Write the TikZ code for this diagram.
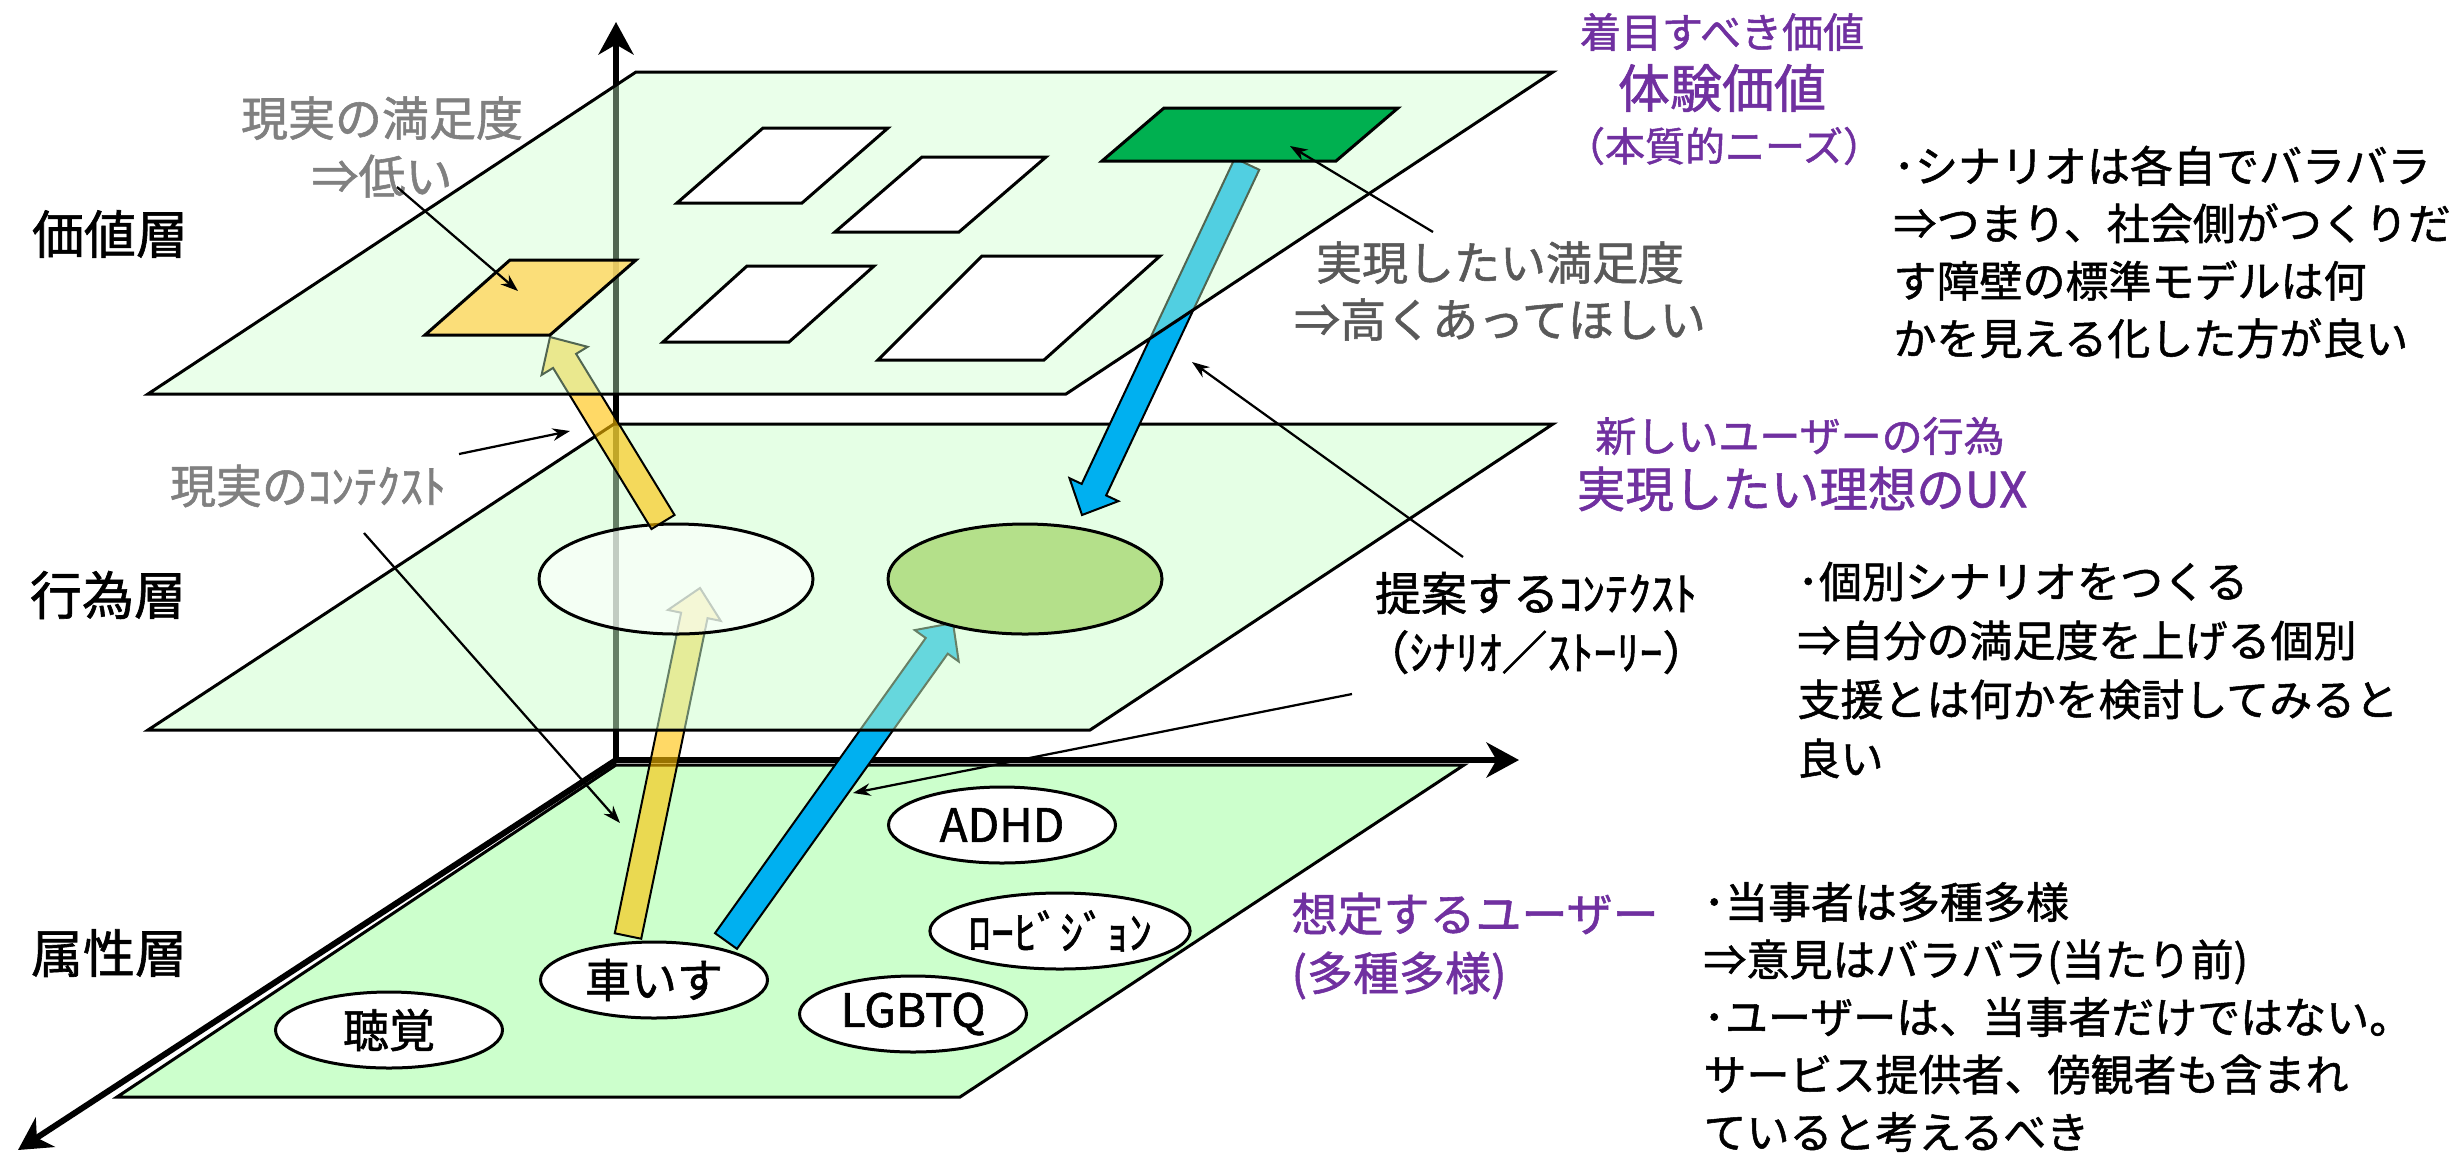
\documentclass[tikz,border=0pt]{standalone}
\usepackage{fontspec}
\setmainfont{Noto Sans CJK JP}[FakeBold=1.2]
\usetikzlibrary{calc,arrows.meta,shapes.geometric}
\definecolor{planeG}{HTML}{CCFFCC}
\definecolor{purp}{HTML}{7030A0}
\definecolor{grayA}{HTML}{808080}
\definecolor{grayB}{HTML}{595959}
\definecolor{yel}{HTML}{FFC000}
\definecolor{yelP}{HTML}{FFD966}
\definecolor{blu}{HTML}{00B0F0}
\definecolor{grnP}{HTML}{00B050}
\definecolor{grnE}{HTML}{B4E08A}
\newcommand\fsz[2]{\fontsize{#1}{#2}\selectfont}
% block arrow: #1 style, #2 tail, #3 tip
\newcommand\blockarrow[3]{%
  \coordinate (ba-h) at ($(#3)!11.2pt!(#2)$);
  \draw[#1] ($(#2)!5.4pt!90:(#3)$) -- ($(ba-h)!5.4pt!90:(#3)$) -- ($(ba-h)!10.8pt!90:(#3)$) -- (#3)
    -- ($(ba-h)!10.8pt!-90:(#3)$) -- ($(ba-h)!5.4pt!-90:(#3)$) -- ($(#2)!5.4pt!-90:(#3)$) -- cycle;
}
\begin{document}
\begin{tikzpicture}[x=0.4pt,y=-0.4pt,
  plane/.style={draw=black, line width=1.2pt, fill=planeG},
  axisline/.style={line width=2.4pt, -{Stealth[length=13pt,width=14pt,inset=4pt]}},
  callout/.style={line width=0.9pt, -{Stealth[length=7pt,width=5pt]}},
  attrell/.style={ellipse, draw=black, line width=1.2pt, fill=white, minimum width=90.8pt, minimum height=30.4pt, inner sep=0pt, font=\fsz{18.4pt}{20pt}},
  actell/.style={ellipse, draw=black, line width=1.2pt, minimum width=109.6pt, minimum height=44pt, inner sep=0pt},
  card/.style={draw=black, line width=1.2pt, fill=white},
  layerlbl/.style={font=\fsz{20.8pt}{24pt}, inner sep=0pt},
  note/.style={font=\fsz{17.2pt}{23pt}, align=left, inner sep=0pt, anchor=west},
  yarrow/.style={fill=yel, fill opacity=0.6, draw=black, line width=0.8pt},
  barrow/.style={fill=blu, draw=black, line width=0.8pt}]

\fill[white] (0,0) rectangle (2450,1154);
\useasboundingbox (0,0) rectangle (2450,1154);

% ---------- attribute layer ----------
\coordinate (b1) at (616,765); \coordinate (b2) at (1464,765);
\coordinate (b3) at (960,1097); \coordinate (b4) at (117,1097);
\draw[plane] (b1) -- (b2) -- (b3) -- (b4) -- cycle;

% axes
\coordinate (O) at (616,760);
\coordinate (Zt) at (616,22);
\coordinate (Xt) at (1519,760);
\coordinate (Yt) at (18,1150);
\draw[axisline] (O) -- (Zt);
\draw[axisline] (O) -- (Xt);
\draw[axisline] (O) -- (Yt);

% lower arrows
\coordinate (ya1s) at (628,936); \coordinate (ya1e) at (700,588);
\coordinate (ba1s) at (726,941); \coordinate (ba1e) at (953,623);
\blockarrow{yarrow}{ya1s}{ya1e}
\blockarrow{barrow}{ba1s}{ba1e}

% attribute ellipses
\node[attrell] (kuruma) at (654,980) {車いす};
\node[attrell] (choukaku) at (389,1030) {聴覚};
\node[attrell] (lgbtq) at (913,1014) {LGBTQ};
\node[attrell] (lowvis) at (1060,931) {ﾛｰﾋﾞｼﾞｮﾝ};
\node[attrell] (adhd) at (1002,825) {ADHD};

% ---------- action layer ----------
\coordinate (m1) at (614,424); \coordinate (m2) at (1553,424);
\coordinate (m3) at (1090,730); \coordinate (m4) at (148,730);
\draw[plane, fill opacity=0.5] (m1) -- (m2) -- (m3) -- (m4) -- cycle;

\node[actell, fill=white, fill opacity=0.6] (curact) at (676,579) {};
\node[actell, fill=grnE] (newact) at (1025,579) {};

% upper arrows
\coordinate (ya2s) at (663,522); \coordinate (ya2e) at (550,337);
\coordinate (ba2s) at (1247,164); \coordinate (ba2e) at (1082,515);
\blockarrow{yarrow}{ya2s}{ya2e}
\blockarrow{barrow}{ba2s}{ba2e}

% ---------- value layer ----------
\coordinate (t1) at (636,72); \coordinate (t2) at (1553,72);
\coordinate (t3) at (1066,394); \coordinate (t4) at (148,394);
\draw[plane, fill opacity=0.4] (t1) -- (t2) -- (t3) -- (t4) -- cycle;

\draw[card] (763,128) -- (888,128) -- (802,203) -- (677,203) -- cycle;
\draw[card] (922,157) -- (1046,157) -- (959,232) -- (835,232) -- cycle;
\draw[card] (747,266) -- (874,266) -- (789,342) -- (663,342) -- cycle;
\draw[card] (982,256) -- (1160,256) -- (1044,360) -- (878,360) -- cycle;
\draw[card, fill=yelP, fill opacity=0.85] (510,260) -- (636,260) -- (550,335) -- (425,335) -- cycle;
\draw[card, fill=grnP] (1164,108) -- (1398,108) -- (1336,161) -- (1102,161) -- cycle;

% ---------- labels ----------
\node[layerlbl] (lv) at (110,234) {価値層};
\node[layerlbl] (la) at (108,595) {行為層};
\node[layerlbl] (lt) at (109,953) {属性層};

\node[font=\fsz{18.8pt}{23.2pt}, text=grayA, align=center, inner sep=0pt] (lowsat) at (382,147) {現実の満足度\\⇒低い};
\node[font=\fsz{16.4pt}{20pt}, text=purp, inner sep=0pt] (focus1) at (1722,32) {着目すべき価値};
\node[font=\fsz{20.8pt}{24pt}, text=purp, inner sep=0pt] (focus2) at (1722,88) {体験価値};
\node[font=\fsz{16pt}{20pt}, text=purp, inner sep=0pt] (focus3) at (1724,146) {（本質的ニーズ）};
\node[font=\fsz{18.4pt}{22.8pt}, text=grayB, align=center, inner sep=0pt] (wantsat) at (1500,291) {実現したい満足度\\⇒高くあってほしい};
\node[note] (note1) at (1893,252) {･シナリオは各自でバラバラ\\⇒つまり、社会側がつくりだ\\す障壁の標準モデルは何\\かを見える化した方が良い};

\node[font=\fsz{16.4pt}{20pt}, text=purp, inner sep=0pt] (newact1) at (1800,436) {新しいユーザーの行為};
\node[font=\fsz{19.4pt}{24pt}, text=purp, inner sep=0pt] (newact2) at (1802,489) {実現したい理想のUX};
\node[font=\fsz{18.4pt}{23.6pt}, align=center, inner sep=0pt] (proposal) at (1536,623) {提案するｺﾝﾃｸｽﾄ\\（ｼﾅﾘｵ／ｽﾄｰﾘｰ）};
\node[note, font=\fsz{17.2pt}{23.6pt}] (note2) at (1797,670) {･個別シナリオをつくる\\⇒自分の満足度を上げる個別\\支援とは何かを検討してみると\\良い};
\node[font=\fsz{18.4pt}{22pt}, text=grayA, inner sep=0pt] (curctx) at (308,486) {現実のｺﾝﾃｸｽﾄ};

\node[font=\fsz{18.4pt}{23.6pt}, text=purp, align=left, inner sep=0pt, anchor=west] (users) at (1291,946) {想定するユーザー\\(多種多様)};
\node[note] (note3) at (1703,1017) {･当事者は多種多様\\⇒意見はバラバラ(当たり前)\\･ユーザーは、当事者だけではない。\\サービス提供者、傍観者も含まれ\\ていると考えるべき};

% ---------- callouts ----------
\coordinate (c1s) at (397,187); \coordinate (c1e) at (518,291);
\coordinate (c2s) at (1433,232); \coordinate (c2e) at (1290,146);
\coordinate (c3s) at (1463,557); \coordinate (c3e) at (1192,362);
\coordinate (c4s) at (1352,694); \coordinate (c4e) at (853,793);
\coordinate (c5s) at (459,454); \coordinate (c5e) at (570,431);
\coordinate (c6s) at (364,533); \coordinate (c6e) at (620,823);
\draw[callout] (c1s) -- (c1e);
\draw[callout] (c2s) -- (c2e);
\draw[callout] (c3s) -- (c3e);
\draw[callout] (c4s) -- (c4e);
\draw[callout] (c5s) -- (c5e);
\draw[callout] (c6s) -- (c6e);
\end{tikzpicture}
\end{document}
